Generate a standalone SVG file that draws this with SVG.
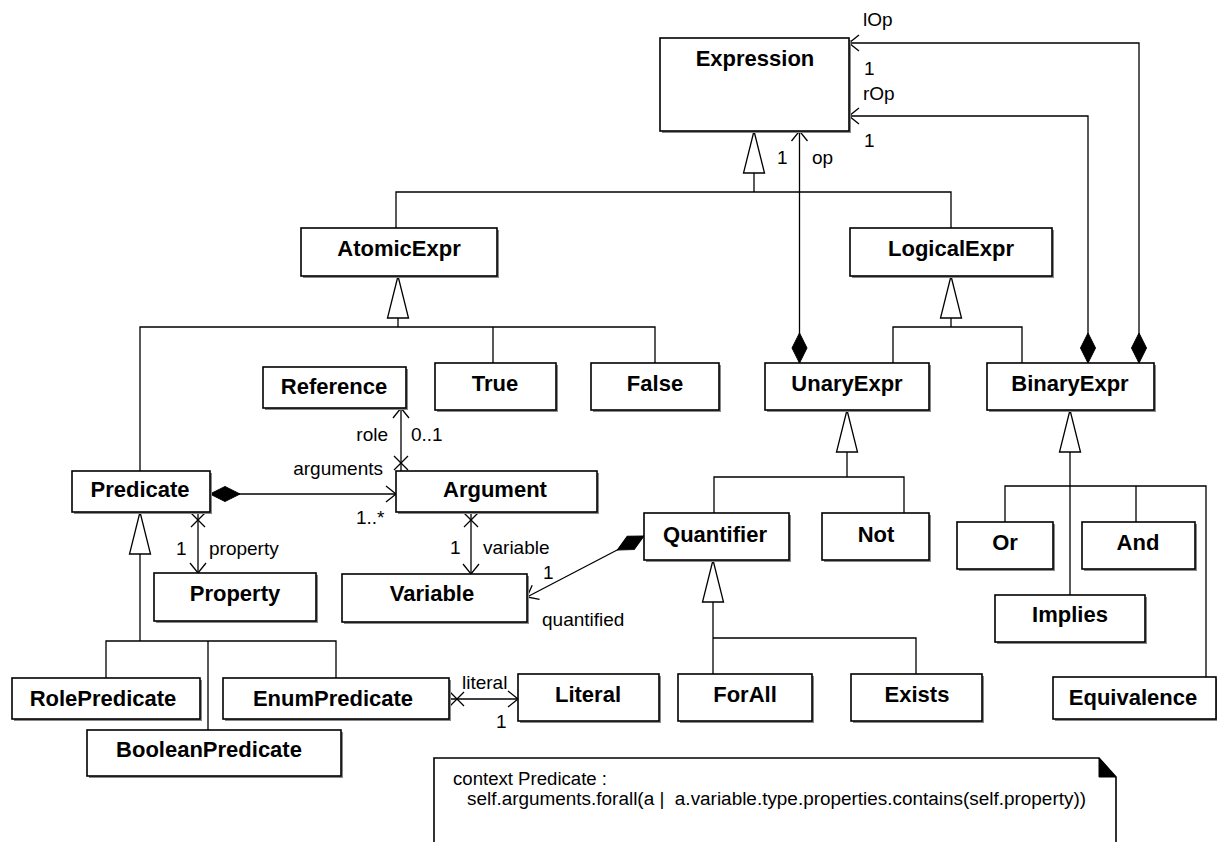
<svg xmlns="http://www.w3.org/2000/svg" width="1217" height="842" viewBox="0 0 1217 842">
<style>
.box{fill:#fff;stroke:#000;stroke-width:1.6}
.sh{fill:#8a8a8a}
.cn{font-family:"Liberation Sans",Arial,sans-serif;font-weight:bold;font-size:22px;text-anchor:middle;fill:#000}
.lb{font-family:"Liberation Sans",Arial,sans-serif;font-size:19px;fill:#000}
.nt{font-family:"Liberation Sans",Arial,sans-serif;font-size:18px;fill:#000}
.ln{fill:none;stroke:#000;stroke-width:1.3}
.gen{marker-start:url(#tri)}
.nav{marker-end:url(#arr)}
.comp{marker-start:url(#dia)}
.nn{marker-start:url(#xm)}
</style>
<defs>
<marker id="arr" markerUnits="userSpaceOnUse" viewBox="-13 -10 15 20" markerWidth="15" markerHeight="20" refX="0" refY="0" orient="auto"><path d="M-10,-8 L0,0 L-10,8" fill="none" stroke="#000" stroke-width="1.3"/></marker>
<marker id="tri" markerUnits="userSpaceOnUse" viewBox="-2 -13 47 26" markerWidth="47" markerHeight="26" refX="0" refY="0" orient="auto"><path d="M0,0 L42,-10.5 L42,10.5 Z" fill="#fff" stroke="#000" stroke-width="1.3"/></marker>
<marker id="dia" markerUnits="userSpaceOnUse" viewBox="-2 -10 34 20" markerWidth="34" markerHeight="20" refX="0" refY="0" orient="auto"><path d="M0,0 L15,-7.5 L30,0 L15,7.5 Z" fill="#000" stroke="#000" stroke-width="1"/></marker>
<marker id="xm" markerUnits="userSpaceOnUse" viewBox="-2 -10 22 20" markerWidth="22" markerHeight="20" refX="0" refY="0" orient="auto"><path d="M1,-7 L15,7 M1,7 L15,-7" fill="none" stroke="#000" stroke-width="1.3"/></marker>
</defs>
<rect width="1217" height="842" fill="#fff"/>

<g id="connectors">
<path class="ln gen" d="M754,131 V192"/>
<path class="ln" d="M396,228 V192 H951 V228"/>
<path class="ln gen" d="M398,276 V327"/>
<path class="ln" d="M140,471 V327 H655 V363 M493,327 V363"/>
<path class="ln gen" d="M951,276 V327"/>
<path class="ln" d="M893,363 V327 H1022 V363"/>
<path class="ln gen" d="M847,410 V477"/>
<path class="ln" d="M714,513 V477 H904 V513"/>
<path class="ln gen" d="M1070,410 V595"/>
<path class="ln" d="M1005,522 V486 H1206 V677 M1136,486 V522"/>
<path class="ln gen" d="M713,560 V674"/>
<path class="ln" d="M713,638 H916 V674"/>
<path class="ln gen" d="M140,512 V641"/>
<path class="ln" d="M106,678 V641 H336 V678 M208,641 V730"/>
<path class="ln comp nav" d="M799.5,363 V131"/>
<path class="ln comp nav" d="M1088,363 V116 H849"/>
<path class="ln comp nav" d="M1139,363 V43 H849"/>
<path class="ln nn nav" d="M401,471 V408"/>
<path class="ln comp nav" d="M210,494 H396"/>
<path class="ln nn nav" d="M198,512 V573"/>
<path class="ln nn nav" d="M471,512 V574"/>
<path class="ln comp nav" d="M644,536 L527,597"/>
<path class="ln nn nav" d="M449,699 H518"/>
<text class="lb" x="863" y="26">lOp</text>
<text class="lb" x="864" y="75">1</text>
<text class="lb" x="863" y="100">rOp</text>
<text class="lb" x="864" y="147">1</text>
<text class="lb" x="777" y="164">1</text>
<text class="lb" x="812" y="164">op</text>
<text class="lb" x="388" y="441" text-anchor="end">role</text>
<text class="lb" x="411" y="441">0..1</text>
<text class="lb" x="383" y="475" text-anchor="end">arguments</text>
<text class="lb" x="356" y="524">1..*</text>
<text class="lb" x="176" y="555">1</text>
<text class="lb" x="209" y="555">property</text>
<text class="lb" x="450" y="554">1</text>
<text class="lb" x="483" y="554">variable</text>
<text class="lb" x="543" y="579">1</text>
<text class="lb" x="542" y="626">quantified</text>
<text class="lb" x="462" y="689">literal</text>
<text class="lb" x="496" y="728">1</text>
</g>

<g id="Expression"><rect class="sh" x="662" y="40" width="189" height="93"/><rect class="box" x="660" y="38" width="189" height="93"/><text class="cn" x="755" y="66">Expression</text></g>
<g id="AtomicExpr"><rect class="sh" x="303" y="230" width="196" height="48"/><rect class="box" x="301" y="228" width="196" height="48"/><text class="cn" x="399" y="256">AtomicExpr</text></g>
<g id="LogicalExpr"><rect class="sh" x="852" y="230" width="202" height="48"/><rect class="box" x="850" y="228" width="202" height="48"/><text class="cn" x="951" y="256">LogicalExpr</text></g>
<g id="Reference"><rect class="sh" x="265" y="369" width="143" height="41"/><rect class="box" x="263" y="367" width="143" height="41"/><text class="cn" x="334" y="394">Reference</text></g>
<g id="True"><rect class="sh" x="437" y="365" width="121" height="47"/><rect class="box" x="435" y="363" width="121" height="47"/><text class="cn" x="495" y="391">True</text></g>
<g id="False"><rect class="sh" x="593" y="365" width="128" height="47"/><rect class="box" x="591" y="363" width="128" height="47"/><text class="cn" x="655" y="391">False</text></g>
<g id="UnaryExpr"><rect class="sh" x="767" y="365" width="164" height="47"/><rect class="box" x="765" y="363" width="164" height="47"/><text class="cn" x="847" y="391">UnaryExpr</text></g>
<g id="BinaryExpr"><rect class="sh" x="989" y="365" width="167" height="47"/><rect class="box" x="987" y="363" width="167" height="47"/><text class="cn" x="1070" y="391">BinaryExpr</text></g>
<g id="Predicate"><rect class="sh" x="74" y="473" width="138" height="41"/><rect class="box" x="72" y="471" width="138" height="41"/><text class="cn" x="140" y="497">Predicate</text></g>
<g id="Argument"><rect class="sh" x="398" y="473" width="201" height="41"/><rect class="box" x="396" y="471" width="201" height="41"/><text class="cn" x="495" y="497">Argument</text></g>
<g id="Property"><rect class="sh" x="156" y="575" width="162" height="48"/><rect class="box" x="154" y="573" width="162" height="48"/><text class="cn" x="235" y="601">Property</text></g>
<g id="Variable"><rect class="sh" x="344" y="576" width="185" height="48"/><rect class="box" x="342" y="574" width="185" height="48"/><text class="cn" x="432" y="601">Variable</text></g>
<g id="Quantifier"><rect class="sh" x="646" y="515" width="145" height="47"/><rect class="box" x="644" y="513" width="145" height="47"/><text class="cn" x="715" y="542">Quantifier</text></g>
<g id="Not"><rect class="sh" x="824" y="515" width="107" height="47"/><rect class="box" x="822" y="513" width="107" height="47"/><text class="cn" x="876" y="542">Not</text></g>
<g id="Or"><rect class="sh" x="959" y="524" width="96" height="47"/><rect class="box" x="957" y="522" width="96" height="47"/><text class="cn" x="1005" y="550">Or</text></g>
<g id="And"><rect class="sh" x="1084" y="524" width="113" height="47"/><rect class="box" x="1082" y="522" width="113" height="47"/><text class="cn" x="1138" y="550">And</text></g>
<g id="Implies"><rect class="sh" x="997" y="597" width="150" height="47"/><rect class="box" x="995" y="595" width="150" height="47"/><text class="cn" x="1070" y="622">Implies</text></g>
<g id="ForAll"><rect class="sh" x="680" y="676" width="134" height="47"/><rect class="box" x="678" y="674" width="134" height="47"/><text class="cn" x="745" y="702">ForAll</text></g>
<g id="Exists"><rect class="sh" x="853" y="676" width="131" height="47"/><rect class="box" x="851" y="674" width="131" height="47"/><text class="cn" x="917" y="702">Exists</text></g>
<g id="Literal"><rect class="sh" x="520" y="676" width="141" height="47"/><rect class="box" x="518" y="674" width="141" height="47"/><text class="cn" x="588" y="702">Literal</text></g>
<g id="Equivalence"><rect class="sh" x="1055" y="679" width="163" height="42"/><rect class="box" x="1053" y="677" width="163" height="42"/><text class="cn" x="1133" y="705">Equivalence</text></g>
<g id="RolePredicate"><rect class="sh" x="14" y="680" width="188" height="41"/><rect class="box" x="12" y="678" width="188" height="41"/><text class="cn" x="103" y="706">RolePredicate</text></g>
<g id="EnumPredicate"><rect class="sh" x="225" y="680" width="226" height="41"/><rect class="box" x="223" y="678" width="226" height="41"/><text class="cn" x="333" y="706">EnumPredicate</text></g>
<g id="BooleanPredicate"><rect class="sh" x="89" y="732" width="254" height="46"/><rect class="box" x="87" y="730" width="254" height="46"/><text class="cn" x="209" y="757">BooleanPredicate</text></g>

<g id="note">
<path d="M434,850 V758 H1099 L1116,777 V850" fill="#fff" stroke="#000" stroke-width="1.6"/>
<path d="M1099,758 L1099,777 L1116,777 Z" fill="#000" stroke="#000" stroke-width="1"/>
<text class="nt" x="453" y="785" textLength="154" lengthAdjust="spacingAndGlyphs">context Predicate :</text>
<text class="nt" x="467" y="805" textLength="619" lengthAdjust="spacingAndGlyphs">self.arguments.forall(a |&#160; a.variable.type.properties.contains(self.property))</text>
</g>
</svg>
